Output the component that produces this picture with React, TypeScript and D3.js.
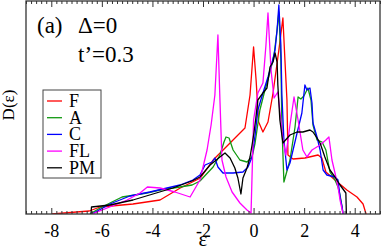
import React, { useEffect, useMemo, useRef } from 'react';
import * as d3 from 'd3';

// D(eps) curves: [epsilon, D]
const dosF: [number, number][] = [
  [-7.97, 0], [-6.5, 0.03], [-6.07, 0.07], [-4.77, 0.1], [-3.7, 0.14], [-2.9, 0.26], [-2.1, 0.36],
  [-1.6, 0.54], [-0.93, 0.71], [-0.34, 0.86], [-0.14, 1.19], [0.0, 1.67], [0.1, 1.34], [0.2, 0.92],
  [0.37, 0.82], [0.57, 0.92], [0.77, 1.21], [1.0, 1.64], [1.16, 1.96], [1.24, 1.54], [1.32, 1.14],
  [1.36, 0.59], [1.56, 0.55], [2.03, 0.56], [2.55, 0.59], [2.7, 0.56], [2.86, 0.42], [3.22, 0.34],
  [3.69, 0.24], [4.09, 0.17], [4.33, 0.1], [4.45, 0],
];

const dosA: [number, number][] = [
  [-6.47, 0], [-6.07, 0.06], [-5.6, 0.12], [-5.2, 0.17], [-4.69, 0.19], [-4.22, 0.21], [-3.7, 0.24],
  [-2.91, 0.27], [-2.43, 0.29], [-2.12, 0.33], [-1.6, 0.47], [-1.33, 0.59], [-1.17, 0.72], [-1.09, 0.77],
  [-0.97, 0.76], [-0.81, 0.64], [-0.54, 0.54], [-0.26, 0.52], [-0.06, 0.57], [0.06, 0.71], [0.25, 1.04],
  [0.45, 1.24], [0.65, 1.42], [0.81, 1.59], [0.93, 1.84], [1.0, 2.02], [1.08, 1.54], [1.12, 0.89],
  [1.2, 0.32], [1.44, 0.54], [1.64, 0.87], [1.76, 1.17], [1.87, 1.15], [1.99, 1.18], [2.15, 1.26],
  [2.27, 1.14], [2.35, 0.89], [2.51, 0.74], [2.71, 0.72], [2.86, 0.64], [3.02, 0.42], [3.22, 0.34],
  [3.34, 0.27], [3.42, 0.19], [3.5, 0.07], [3.54, 0],
];

const dosC: [number, number][] = [
  [-6.39, 0], [-5.68, 0.1], [-4.89, 0.18], [-4.1, 0.22], [-3.42, 0.26], [-2.91, 0.29], [-2.4, 0.34],
  [-2.12, 0.39], [-1.92, 0.49], [-1.64, 0.52], [-1.53, 0.56], [-1.41, 0.47], [-1.21, 0.41], [-0.81, 0.41],
  [-0.42, 0.42], [-0.22, 0.47], [-0.06, 0.57], [0.06, 0.79], [0.17, 1.04], [0.37, 1.21], [0.57, 1.37],
  [0.73, 1.51], [0.85, 1.64], [0.93, 1.84], [1.0, 2.09], [1.08, 1.69], [1.12, 1.19], [1.2, 0.74],
  [1.32, 0.44], [1.44, 0.51], [1.72, 0.81], [1.91, 1.01], [2.03, 1.29], [2.11, 1.24], [2.23, 1.26],
  [2.31, 1.11], [2.35, 0.91], [2.51, 0.77], [2.63, 0.64], [2.75, 0.44], [2.9, 0.39], [3.22, 0.37],
  [3.34, 0.34], [3.42, 0.17], [3.5, 0.07], [3.54, 0],
];

const dosFL: [number, number][] = [
  [-6.39, 0], [-5.0, 0.14], [-4.49, 0.21], [-4.2, 0.27], [-3.7, 0.26], [-3.11, 0.22], [-2.51, 0.17],
  [-2.12, 0.34], [-1.84, 0.64], [-1.68, 0.89], [-1.53, 1.19], [-1.41, 1.79], [-1.33, 1.14], [-1.25, 0.54],
  [-1.09, 0.37], [-0.85, 0.22], [-0.54, 0.11], [-0.26, 0.04], [-0.1, 0.01], [0.0, 0.94], [0.17, 1.21],
  [0.37, 1.31], [0.49, 1.69], [0.57, 2.01], [0.69, 1.44], [0.81, 1.16], [0.96, 1.22], [1.16, 0.74],
  [1.28, 0.59], [1.44, 0.89], [1.6, 1.17], [1.76, 0.94], [1.95, 0.64], [2.11, 0.57], [2.31, 0.64],
  [2.63, 0.69], [2.86, 0.74], [2.98, 0.77], [3.1, 0.54], [3.22, 0.41], [3.34, 0.27], [3.42, 0.14], [3.54, 0],
];

const dosPM: [number, number][] = [
  [-6.43, 0], [-6.41, 0.07], [-5.68, 0.09], [-4.77, 0.14], [-3.98, 0.2], [-3.19, 0.26], [-2.44, 0.33],
  [-2.12, 0.37], [-1.72, 0.49], [-1.33, 0.57], [-1.13, 0.61], [-0.93, 0.56], [-0.74, 0.46], [-0.62, 0.36],
  [-0.5, 0.2], [-0.42, 0.36], [-0.26, 0.46], [-0.14, 0.57], [-0.06, 0.69], [0.02, 0.82], [0.09, 0.96],
  [0.17, 1.14], [0.37, 1.21], [0.53, 1.26], [0.65, 1.47], [0.77, 1.52], [0.85, 1.61], [0.93, 1.52],
  [0.96, 1.29], [1.04, 0.94], [1.16, 0.71], [1.44, 0.79], [1.72, 0.82], [1.95, 0.82], [2.23, 0.84],
  [2.35, 0.82], [2.51, 0.76], [2.63, 0.71], [2.82, 0.57], [3.02, 0.44], [3.22, 0.37], [3.42, 0.29],
  [3.65, 0.21], [3.67, 0],
];

const seriesNames = ['F', 'A', 'C', 'FL', 'PM'];
const seriesData = [dosF, dosA, dosC, dosFL, dosPM];
const seriesColors = ['#ff0000', '#119911', '#0000ff', '#ff00ff', '#000000'];

const xMajorTicks = [-8, -6, -4, -2, 0, 2, 4];

const WIDTH = 382;
const HEIGHT = 251;
const MARGIN = { top: 1, right: 2, bottom: 37, left: 26 };
const FONT = 'Liberation Serif, Times New Roman, serif';

const DosChart = () => {
  const axesRef = useRef<SVGGElement>(null);

  const boundsWidth = WIDTH - MARGIN.left - MARGIN.right;
  const boundsHeight = HEIGHT - MARGIN.top - MARGIN.bottom;

  const xScale = useMemo(() => d3.scaleLinear().domain([-9, 5]).range([0, boundsWidth]), []);
  const yScale = useMemo(() => d3.scaleLinear().domain([0, 2.13]).range([boundsHeight, 0]), []);

  const lineGen = d3.line<[number, number]>()
    .x(d => xScale(d[0]))
    .y(d => yScale(d[1]));

  // axes: inward ticks top and bottom, minor every 0.2
  useEffect(() => {
    const g = d3.select(axesRef.current);
    g.selectAll('*').remove();

    const minorTicks = d3.range(-45, 26).map(i => i / 5).filter(v => !xMajorTicks.includes(v));

    const bottomMinor = d3.axisBottom(xScale).tickValues(minorTicks).tickSize(-3).tickFormat(() => '');
    const bottomMajor = d3.axisBottom(xScale).tickValues(xMajorTicks).tickSizeInner(-6).tickSizeOuter(0)
      .tickPadding(10).tickFormat(d => String(d));
    const topMinor = d3.axisTop(xScale).tickValues(minorTicks).tickSize(-3).tickFormat(() => '');
    const topMajor = d3.axisTop(xScale).tickValues(xMajorTicks).tickSize(-6).tickFormat(() => '');

    const b1 = g.append('g').attr('transform', `translate(0,${boundsHeight})`).call(bottomMinor);
    const b2 = g.append('g').attr('transform', `translate(0,${boundsHeight})`).call(bottomMajor);
    const t1 = g.append('g').call(topMinor);
    const t2 = g.append('g').call(topMajor);

    [b1, b2, t1, t2].forEach(a => {
      a.select('.domain').remove();
      a.selectAll('.tick line').attr('stroke', '#333').attr('stroke-width', 1);
    });

    b2.attr('font-family', FONT);
    b2.selectAll('.tick text')
      .attr('font-size', 18)
      .attr('fill', '#000');
  }, [xScale, boundsHeight]);

  return (
    <svg width={WIDTH} height={HEIGHT} style={{ position: 'absolute', left: 0, top: 0 }} fontFamily={FONT}>
      <defs>
        <clipPath id="plot-clip">
          <rect x={0} y={0} width={boundsWidth} height={boundsHeight} />
        </clipPath>
      </defs>
      <g transform={`translate(${MARGIN.left},${MARGIN.top})`}>
        <g clipPath="url(#plot-clip)">
          {seriesData.map((d, i) => (
            <path key={seriesNames[i]} d={lineGen(d) || ''} fill="none"
              stroke={seriesColors[i]} strokeWidth={1.3} strokeLinejoin="round" />
          ))}
        </g>
        <g ref={axesRef} />
        <rect x={0} y={0} width={boundsWidth} height={boundsHeight} fill="none" stroke="#333" strokeWidth={1.3} />

        {/* legend */}
        <g transform="translate(17,89)">
          <rect x={0} y={0} width={58} height={88} fill="#fff" stroke="#444" strokeWidth={1} />
          {seriesNames.map((name, i) => (
            <g key={name} transform={`translate(0,${11 + i * 16.7})`}>
              <line x1={4} x2={19} y1={0} y2={0} stroke={seriesColors[i]} strokeWidth={1.3} />
              <text x={26} y={6} fontSize={18}>{name}</text>
            </g>
          ))}
        </g>

        <text x={11} y={32} fontSize={23}>(a)</text>
        <text x={52} y={32} fontSize={23}>Δ=0</text>
        <text x={52} y={61} fontSize={23}>t’=0.3</text>
      </g>
      <text x={203} y={246} textAnchor="middle" fontSize={21}>ε</text>
      <text transform="translate(14,105) rotate(-90)" textAnchor="middle" fontSize={17}>D(ε)</text>
    </svg>
  );
};

const App = () => <DosChart />;

export default App;
